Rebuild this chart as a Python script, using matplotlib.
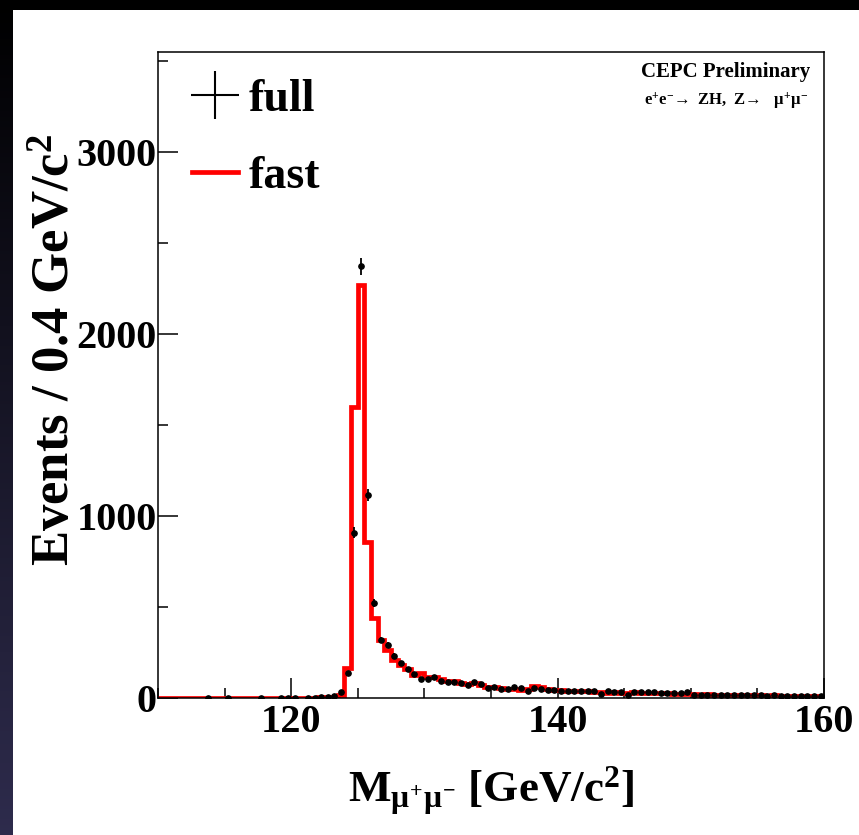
import numpy as np
import matplotlib
matplotlib.use('Agg')
import matplotlib.pyplot as plt
from matplotlib import rcParams
from matplotlib.lines import Line2D
from matplotlib.patches import Rectangle
from matplotlib.ticker import MultipleLocator, FixedLocator

# fonts: Times-like bold, as in ROOT
rcParams['font.family'] = ['Liberation Serif', 'DejaVu Serif']
rcParams['font.weight'] = 'bold'
rcParams['mathtext.fontset'] = 'custom'
rcParams['mathtext.rm'] = 'Liberation Serif:bold'
rcParams['mathtext.bf'] = 'Liberation Serif:bold'
rcParams['mathtext.it'] = 'Liberation Serif'
rcParams['axes.unicode_minus'] = True

# binning (0.5 GeV bins from 110 to 160)
m_lo, m_hi, bin_w = 110.0, 160.0, 0.5

# full simulation (points)
full = np.array([
    0, 0, 0, 0, 0, 0, 0, 1, 0, 0,
    1, 0, 0, 0, 0, 1, 0, 0, 1, 2,
    1, 0, 2, 2, 3, 6, 11, 33, 136, 909,
    2372, 1117, 521, 319, 292, 231, 191, 160, 132, 103,
    104, 114, 93, 90, 90, 81, 70, 86, 77, 55,
    59, 50, 48, 59, 53, 40, 56, 48, 44, 44,
    40, 37, 37, 37, 37, 38, 20, 37, 34, 33,
    15, 33, 33, 34, 32, 28, 28, 27, 27, 35,
    18, 17, 19, 16, 17, 15, 16, 14, 15, 14,
    15, 13, 14, 12, 13, 12, 13, 11, 12, 10,
], dtype=float)

# fast simulation (red histogram)
fast = np.array([
    0, 0, 0, 0, 0, 0, 0, 0, 1, 0,
    0, 0, 0, 1, 0, 0, 0, 1, 0, 1,
    1, 1, 2, 2, 3, 4, 8, 15, 165, 1600,
    2270, 860, 440, 320, 264, 209, 182, 158, 126, 136,
    117, 117, 103, 95, 92, 85, 75, 80, 72, 60,
    58, 55, 50, 48, 45, 52, 66, 60, 48, 45,
    42, 40, 38, 40, 36, 35, 33, 30, 32, 30,
    30, 32, 28, 27, 30, 26, 25, 24, 22, 24,
    20, 19, 20, 17, 18, 16, 17, 15, 16, 14,
    15, 13, 14, 12, 13, 12, 12, 11, 11, 10,
], dtype=float)

edges = np.arange(m_lo, m_hi + bin_w / 2, bin_w)
centers = 0.5 * (edges[:-1] + edges[1:])

W, H = 859, 835
fig = plt.figure(figsize=(W / 100, H / 100), dpi=100)
fig.patch.set_facecolor('black')

# dark slide background with gradient, white canvas on top
bg = fig.add_axes([0, 0, 1, 1], zorder=-10)
bg.axis('off')
grad = np.linspace(0, 1, 256)
cols = np.zeros((256, 1, 3))
cols[:, 0, 0] = 0.18 * grad
cols[:, 0, 1] = 0.17 * grad
cols[:, 0, 2] = 0.30 * grad
bg.imshow(cols, extent=[0, 1, 0, 1], aspect='auto', origin='upper')
bg.set_xlim(0, 1)
bg.set_ylim(0, 1)
bg.add_patch(Rectangle((13 / W, 0), 1, 1 - 10 / H, color='white', lw=0))

ax = fig.add_axes([158 / W, 137 / H, 666 / W, 646 / H])
ax.set_facecolor('white')

ax.stairs(fast, edges, color='red', lw=3.4, zorder=2)
mask = full > 0
ax.errorbar(centers[mask], full[mask], yerr=np.sqrt(full[mask]), fmt='o',
            color='black', ms=3.8, elinewidth=1.3, capsize=0, zorder=3)

ax.set_xlim(m_lo, m_hi)
ax.set_ylim(0, 3550)
ax.xaxis.set_major_locator(FixedLocator([120, 140, 160]))
ax.xaxis.set_minor_locator(MultipleLocator(5))
ax.yaxis.set_major_locator(FixedLocator([0, 1000, 2000, 3000]))
ax.yaxis.set_minor_locator(MultipleLocator(500))
ax.tick_params(which='both', direction='in', top=False, right=False,
               width=1.1, labelsize=29)
ax.tick_params(axis='x', which='both', pad=4)
ax.tick_params(axis='y', which='both', pad=1)
ax.tick_params(which='major', length=14.5)
ax.tick_params(which='minor', length=7)
for s in ax.spines.values():
    s.set_linewidth(1.1)

fig.text(491 / W, 1 - 802 / H, r'$\mathbf{M}_{\mu^{+}\mu^{-}}$ [GeV/c$^{2}$]',
         ha='center', va='baseline', fontsize=32.5, fontweight='bold')
fig.text(57 / W, 1 - 350 / H, r'Events / 0.4 GeV/c$^{2}$', rotation=90,
         ha='center', va='center', fontsize=38, fontweight='bold')

ax.text(0.979, 0.961, 'CEPC Preliminary', transform=ax.transAxes,
        ha='right', va='baseline', fontsize=15, fontweight='bold')
ax.text(0.976, 0.918, r'$\mathbf{e^{+}e^{-}\!\rightarrow\ ZH,\ Z\!\rightarrow}\ \ \mu^{+}\mu^{-}$',
        transform=ax.transAxes, ha='right', va='baseline', fontsize=12)

handles = [Line2D([], [], color='black', marker='+', ms=34, mew=1.5, ls='none'),
           Line2D([], [], color='red', lw=3.4)]
ax.legend(handles, ['full', 'fast'], loc='upper left',
          bbox_to_anchor=(20.7 / 666, 1 - 13.5 / 646), frameon=False,
          prop={'size': 33, 'weight': 'bold'}, handlelength=1.0,
          handletextpad=0.22, labelspacing=0.765, borderaxespad=0,
          borderpad=0.3)

fig.savefig('out.png', dpi=100, facecolor=fig.get_facecolor())
